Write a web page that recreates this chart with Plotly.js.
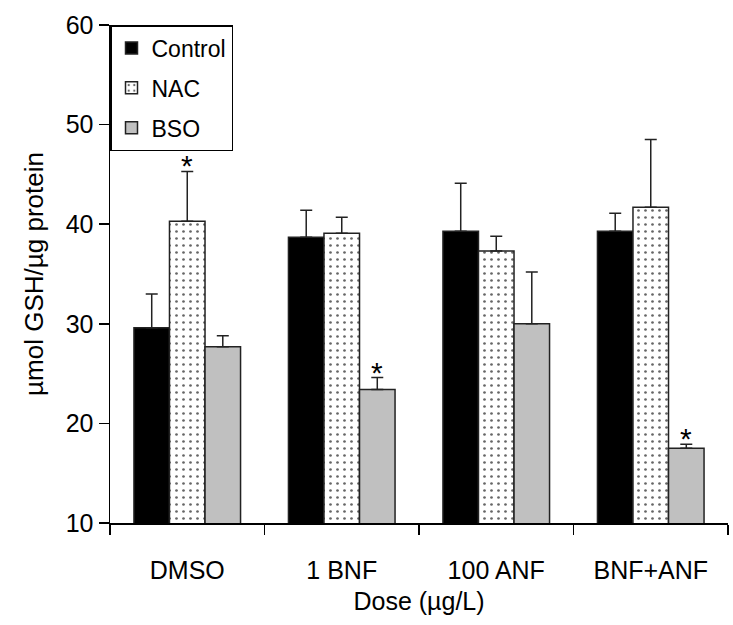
<!DOCTYPE html>
<html>
<head>
<meta charset="utf-8">
<script src="https://cdn.plot.ly/plotly-3.0.1.min.js"></script>
<style>html,body{margin:0;padding:0;background:#fff;}#chart{width:733px;height:625px;}</style>
</head>
<body>
<div id="chart"></div>
<script>
const categories = ['DMSO', '1 BNF', '100 ANF', 'BNF+ANF'];
const seriesNames = ['Control', 'NAC', 'BSO'];
const controlValues = [29.6, 38.7, 39.3, 39.3];
const controlErrors = [3.4, 2.7, 4.8, 1.8];
const nacValues = [40.3, 39.1, 37.3, 41.7];
const nacErrors = [5.0, 1.6, 1.5, 6.8];
const bsoValues = [27.7, 23.4, 30.0, 17.5];
const bsoErrors = [1.1, 1.2, 5.2, 0.4];
const controlStars = [false, false, false, false];
const nacStars = [true, false, false, false];
const bsoStars = [false, true, false, true];
const yTickValues = [10, 20, 30, 40, 50, 60];

const FONT = 'Liberation Sans, Arial, sans-serif';
const zeros = categories.map(() => 0);

function errBar(arr) {
  return {type: 'data', symmetric: false, array: arr, arrayminus: zeros,
          visible: true, color: '#222', thickness: 1.5, width: 6};
}

const traces = [
  {type: 'bar', name: seriesNames[0], x: categories, y: controlValues, legendgroup: 'a',
   marker: {color: '#000', line: {color: '#222', width: 1.5}}, error_y: errBar(controlErrors)},
  {type: 'bar', name: seriesNames[1], x: categories, y: nacValues, legendgroup: 'b',
   marker: {color: '#fff', line: {color: '#222', width: 1.5},
            pattern: {shape: '.', fgcolor: '#666', bgcolor: '#fff', size: 7, solidity: 0.12}},
   error_y: errBar(nacErrors)},
  {type: 'bar', name: seriesNames[2], x: categories, y: bsoValues, legendgroup: 'c',
   marker: {color: '#c0c0c0', line: {color: '#222', width: 1.5}}, error_y: errBar(bsoErrors)}
];

// plot geometry for star placement
const plotW = 733 - 110 - 5;
const bargap = 0.31;
const barW = plotW / categories.length * (1 - bargap) / 3;
const seriesSets = [[controlValues, controlErrors, controlStars],
                    [nacValues, nacErrors, nacStars],
                    [bsoValues, bsoErrors, bsoStars]];
const annotations = [];
seriesSets.forEach((s, si) => {
  categories.forEach((c, ci) => {
    if (s[2][ci]) {
      annotations.push({x: c, y: s[0][ci] + s[1][ci], xref: 'x', yref: 'y',
        text: '*', showarrow: false, yanchor: 'bottom', xshift: (si - 1) * barW, yshift: -13,
        font: {family: FONT, size: 30, color: '#000'}});
    }
  });
});

const layout = {
  width: 733, height: 625,
  margin: {l: 110, r: 5, t: 25, b: 102},
  paper_bgcolor: '#fff', plot_bgcolor: '#fff',
  font: {family: FONT, size: 25, color: '#000'},
  barmode: 'group', bargap: bargap, bargroupgap: 0,
  showlegend: true,
  legend: {x: 0, y: 1, xanchor: 'left', yanchor: 'top', bgcolor: '#fff',
           bordercolor: '#000', borderwidth: 1.5, traceorder: 'grouped', tracegroupgap: 7,
           itemwidth: 30,
           font: {family: FONT, size: 23, color: '#000'}},
  xaxis: {type: 'category', showline: true, linecolor: '#000', linewidth: 1.5,
          ticks: 'outside', tickson: 'boundaries', ticklen: 10, tickwidth: 1.5, tickcolor: '#000',
          ticklabelstandoff: 24, showgrid: false, zeroline: false,
          tickfont: {family: FONT, size: 25, color: '#000'},
          title: {text: 'Dose (µg/L)', standoff: 10, font: {family: FONT, size: 25, color: '#000'}}},
  yaxis: {range: [10, 60], tickvals: yTickValues, showline: true, linecolor: '#000', linewidth: 1.5,
          ticks: 'outside', ticklen: 10, tickwidth: 1.5, tickcolor: '#000',
          showgrid: false, zeroline: false,
          tickfont: {family: FONT, size: 25, color: '#000'},
          title: {text: 'µmol GSH/µg protein', standoff: 14, font: {family: FONT, size: 26, color: '#000'}}},
  annotations: annotations
};

Plotly.newPlot('chart', traces, layout, {displayModeBar: false, staticPlot: true});
</script>
</body>
</html>
